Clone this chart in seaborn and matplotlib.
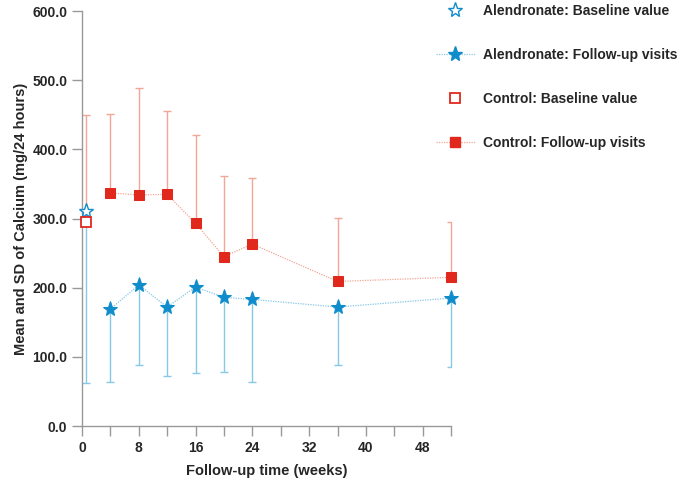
import matplotlib
matplotlib.use("Agg")
import matplotlib.pyplot as plt
from matplotlib.lines import Line2D
import seaborn as sns
import pandas as pd
import numpy as np

# ---- data ----
weeks = [4, 8, 12, 16, 20, 24, 36, 52]
baseline_week = 0.6

alen_baseline_mean = 311
alen_baseline_sd = 249
alen_mean = [169, 204, 172, 201, 186, 183, 172, 185]
alen_sd = [105, 116, 99, 125, 108, 119, 84, 100]

ctrl_baseline_mean = 295
ctrl_baseline_sd = 155
ctrl_mean = [337, 334, 335, 293, 245, 263, 209, 215]
ctrl_sd = [114, 155, 121, 128, 117, 95, 92, 80]

x_ticks = list(range(0, 53, 4))
y_ticks = [0, 100, 200, 300, 400, 500, 600]

legend_labels = ["Alendronate: Baseline value", "Alendronate: Follow-up visits",
                 "Control: Baseline value", "Control: Follow-up visits"]

# ---- style ----
sns.set_style("ticks")
plt.rcParams["font.family"] = ["Liberation Sans", "DejaVu Sans"]
plt.rcParams["font.weight"] = "bold"

blue = "#0f8ccb"
blue_light = "#86c8e6"
red = "#e0281d"
red_light = "#f2a696"

fig = plt.figure(figsize=(6.85, 4.8), dpi=100)
ax = fig.add_axes([0.1197, 0.1125, 0.5388, 0.8645])

df = pd.DataFrame({
    "week": weeks * 2,
    "value": alen_mean + ctrl_mean,
    "group": ["Alendronate"] * len(weeks) + ["Control"] * len(weeks),
})

# error bars (one-sided)
eb_kw = dict(fmt="none", elinewidth=1.0, capsize=3, capthick=1.0, zorder=2)
ax.errorbar(weeks, alen_mean, yerr=[alen_sd, [0] * len(weeks)], ecolor=blue_light, **eb_kw)
ax.errorbar(weeks, ctrl_mean, yerr=[[0] * len(weeks), ctrl_sd], ecolor=red_light, **eb_kw)
ax.errorbar([baseline_week], [alen_baseline_mean], yerr=[[alen_baseline_sd], [0]],
            ecolor=blue_light, **eb_kw)
ax.errorbar([baseline_week], [ctrl_baseline_mean], yerr=[[0], [ctrl_baseline_sd]],
            ecolor=red_light, **eb_kw)

# follow-up lines
sns.lineplot(data=df, x="week", y="value", hue="group", style="group",
             palette={"Alendronate": blue, "Control": red},
             markers={"Alendronate": "*", "Control": "s"},
             dashes={"Alendronate": (1, 1), "Control": (1, 1)},
             markersize=10, linewidth=0.9, legend=False, ax=ax, zorder=3)
lines = ax.get_lines()[-2:]
lines[0].set_color(blue_light); lines[0].set_markerfacecolor(blue); lines[0].set_markeredgecolor(blue)
lines[1].set_color(red_light); lines[1].set_markerfacecolor(red); lines[1].set_markeredgecolor(red)
lines[0].set_markersize(11)
lines[1].set_markersize(6.5)
for ln in lines:
    ln.set_clip_on(False)

# baselines
ax.plot([baseline_week], [alen_baseline_mean], marker="*", markersize=11, markerfacecolor="white",
        markeredgecolor=blue, markeredgewidth=1.0, linestyle="none", zorder=4, clip_on=False)
ax.plot([baseline_week], [ctrl_baseline_mean], marker="s", markersize=6.5, markerfacecolor="white",
        markeredgecolor=red, markeredgewidth=1.3, linestyle="none", zorder=4, clip_on=False)
for c in ax.collections:
    c.set_clip_on(False)

ax.set_xlim(0, 52)
ax.set_ylim(0, 600)
ax.set_xticks(x_ticks)
ax.set_xticklabels([str(t) if t % 8 == 0 and t <= 48 else "" for t in x_ticks])
ax.set_yticks(y_ticks)
ax.set_yticklabels([f"{v:.1f}" for v in y_ticks])
ax.tick_params(axis="both", length=7, width=1.0, color="#999999", labelsize=10)
for lab in ax.get_xticklabels() + ax.get_yticklabels():
    lab.set_fontweight("bold")
sns.despine(ax=ax)
for s in ["left", "bottom"]:
    ax.spines[s].set_color("#999999")
    ax.spines[s].set_linewidth(1.0)

ax.set_xlabel("Follow-up time (weeks)", fontsize=10.5, fontweight="bold", labelpad=7)
ax.set_ylabel("Mean and SD of Calcium (mg/24 hours)", fontsize=10.5, fontweight="bold", labelpad=3)

handles = [
    Line2D([], [], marker="*", markersize=11, markerfacecolor="white", markeredgecolor=blue,
           linestyle="none"),
    Line2D([], [], marker="*", markersize=11, color=blue_light, markerfacecolor=blue,
           markeredgecolor=blue, linestyle=(0, (1, 1)), linewidth=0.9),
    Line2D([], [], marker="s", markersize=6.5, markerfacecolor="white", markeredgecolor=red,
           markeredgewidth=1.3, linestyle="none"),
    Line2D([], [], marker="s", markersize=6.5, color=red_light, markerfacecolor=red,
           markeredgecolor=red, linestyle=(0, (1, 1)), linewidth=0.9),
]
fig.legend(handles, legend_labels, loc="upper left", bbox_to_anchor=(0.618, 1.017),
           frameon=False, labelspacing=2.15, handlelength=2.8, handletextpad=0.6,
           prop={"weight": "bold", "size": 10})

fig.savefig("out.png", dpi=100)
